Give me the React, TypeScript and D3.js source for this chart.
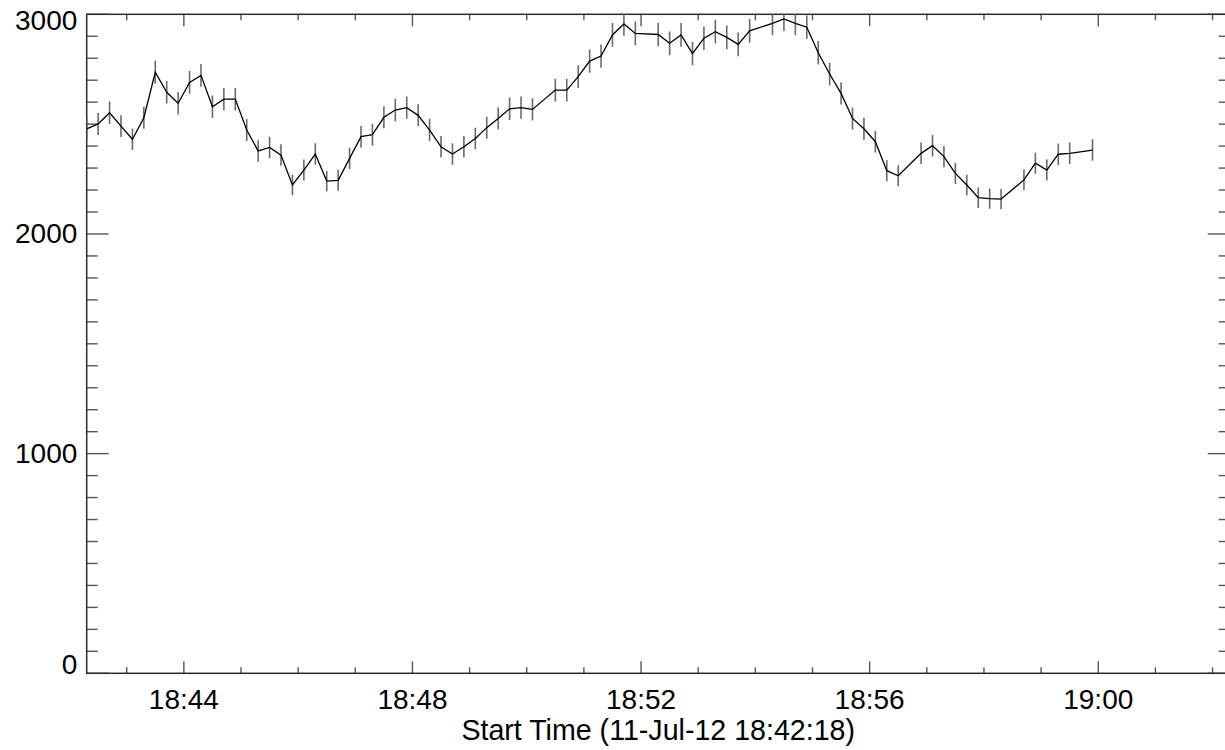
import React from "react";
import * as d3 from "d3";

const times: string[] = [
  "18:42:18","18:42:30","18:42:42","18:42:54","18:43:06","18:43:18","18:43:30","18:43:42","18:43:54","18:44:06",
  "18:44:18","18:44:30","18:44:42","18:44:54","18:45:06","18:45:18","18:45:30","18:45:42","18:45:54","18:46:06",
  "18:46:18","18:46:30","18:46:42","18:46:54","18:47:06","18:47:18","18:47:30","18:47:42","18:47:54","18:48:06",
  "18:48:18","18:48:30","18:48:42","18:48:54","18:49:06","18:49:18","18:49:30","18:49:42","18:49:54","18:50:06",
  "18:50:30","18:50:42","18:50:54","18:51:06","18:51:18","18:51:30","18:51:42","18:51:54",
  "18:52:18","18:52:30","18:52:42","18:52:54","18:53:06","18:53:18","18:53:30","18:53:42","18:53:54",
  "18:54:18","18:54:30","18:54:42","18:54:54","18:55:06","18:55:18","18:55:30","18:55:42","18:55:54","18:56:06","18:56:18","18:56:30",
  "18:56:54","18:57:06","18:57:18","18:57:30","18:57:42","18:57:54","18:58:06","18:58:18",
  "18:58:42","18:58:54","18:59:06","18:59:18","18:59:30",
  "18:59:54",
];

const counts: number[] = [
  2478,2501,2552,2491,2431,2529,2736,2645,2595,2690,
  2722,2579,2614,2614,2473,2378,2394,2359,2223,2291,
  2364,2241,2244,2344,2443,2452,2531,2564,2575,2540,
  2473,2397,2364,2397,2435,2484,2526,2570,2575,2567,
  2655,2655,2716,2787,2810,2906,2956,2913,
  2908,2868,2906,2821,2891,2921,2895,2863,2925,
  2959,2979,2959,2941,2825,2728,2640,2526,2479,2420,2288,2265,
  2367,2402,2352,2276,2223,2165,2161,2159,
  2246,2322,2291,2363,2367,
  2382,
];

const errors: number[] = [
  50,50,51,50,49,50,52,51,51,52,
  52,51,51,51,50,49,49,49,47,48,
  49,47,47,48,49,50,50,51,51,50,
  50,49,49,49,49,50,50,51,51,51,
  52,52,52,53,53,54,54,54,
  54,54,54,53,54,54,54,54,54,
  54,55,54,54,53,52,51,50,50,49,48,48,
  49,49,48,48,47,47,46,46,
  47,48,48,49,49,
  49,
];

const xDomain: string[] = ["18:42:18", "19:02:18"];
const yTicksMajor: number[] = [0, 1000, 2000, 3000];
const xTitle = "Start Time (11-Jul-12 18:42:18)";

const W = 1225;
const H = 750;
const FONT = "'Liberation Sans', Arial, Helvetica, sans-serif";

export default function App() {
  const parse = d3.timeParse("%H:%M:%S");
  const left = 86.7;
  const right = 1229.7;
  const top = 14.3;
  const bottom = 673.3;

  const x = d3
    .scaleTime()
    .domain([parse(xDomain[0])!, parse(xDomain[1])!])
    .range([left, right]);
  const y = d3.scaleLinear().domain([0, 3000]).range([bottom, top]);

  const data = times.map((t, i) => ({ t: parse(t)!, v: counts[i], e: errors[i] }));

  const line = d3
    .line<{ t: Date; v: number }>()
    .x((d) => x(d.t))
    .y((d) => y(d.v));

  const majorX = d3.timeMinute.every(4)!.range(x.domain()[0], x.domain()[1]);
  const minorX = d3.timeMinute.every(1)!.range(x.domain()[0], x.domain()[1]);
  const minorY = d3.range(0, 3001, 100);
  const fmt = d3.timeFormat("%H:%M");

  const axisColor = "#2a2a2a";
  const tickColor = "#555";

  return (
    <svg
      width={W}
      height={H}
      style={{ position: "absolute", left: 0, top: 0, background: "#fff" }}
    >
      <defs>
        <clipPath id="plotclip">
          <rect x={left} y={top} width={right - left} height={bottom - top} />
        </clipPath>
      </defs>
      <rect x={0} y={0} width={W} height={H} fill="#fff" />

      {/* y ticks (left & right) */}
      {minorY.map((v) => {
        const major = v % 1000 === 0;
        const len = major ? 22 : 11;
        return (
          <g key={"yt" + v}>
            <line x1={left} x2={left + len} y1={y(v)} y2={y(v)} stroke={tickColor} strokeWidth={1.4} />
            <line x1={right} x2={right - len} y1={y(v)} y2={y(v)} stroke={tickColor} strokeWidth={1.4} />
          </g>
        );
      })}

      {/* x ticks (bottom & top) */}
      {minorX.map((d) => {
        const major = d.getMinutes() % 4 === 0;
        const len = major ? 12 : 6;
        return (
          <g key={"xt" + d.getTime()}>
            <line x1={x(d)} x2={x(d)} y1={bottom} y2={bottom - len} stroke={tickColor} strokeWidth={1.4} />
            <line x1={x(d)} x2={x(d)} y1={top} y2={top + len} stroke={tickColor} strokeWidth={1.4} />
          </g>
        );
      })}

      {/* frame */}
      <rect
        x={left}
        y={top}
        width={right - left}
        height={bottom - top}
        fill="none"
        stroke={axisColor}
        strokeWidth={1.5}
      />

      {/* data */}
      <g clipPath="url(#plotclip)">
        {data.map((d, i) => (
          <line
            key={"eb" + i}
            x1={x(d.t)}
            x2={x(d.t)}
            y1={y(d.v - d.e)}
            y2={y(d.v + d.e)}
            stroke="#6a6a6a"
            strokeWidth={1.6}
          />
        ))}
        <path d={line(data) || ""} fill="none" stroke="#000" strokeWidth={1.3} />
      </g>

      {/* y labels */}
      {yTicksMajor.map((v) => {
        const base = Math.min(Math.max(y(v) + 9, 30), 674);
        return (
          <text
            key={"yl" + v}
            x={77.3}
            y={base}
            textAnchor="end"
            fontFamily={FONT}
            fontSize={28}
            fill="#000"
          >
            {v}
          </text>
        );
      })}

      {/* x labels */}
      {majorX.map((d) => (
        <text
          key={"xl" + d.getTime()}
          x={x(d)}
          y={709}
          textAnchor="middle"
          fontFamily={FONT}
          fontSize={28}
          fill="#000"
        >
          {fmt(d)}
        </text>
      ))}

      <text
        x={(left + right) / 2}
        y={740}
        textAnchor="middle"
        fontFamily={FONT}
        fontSize={28.6}
        fill="#000"
      >
        {xTitle}
      </text>
    </svg>
  );
}
